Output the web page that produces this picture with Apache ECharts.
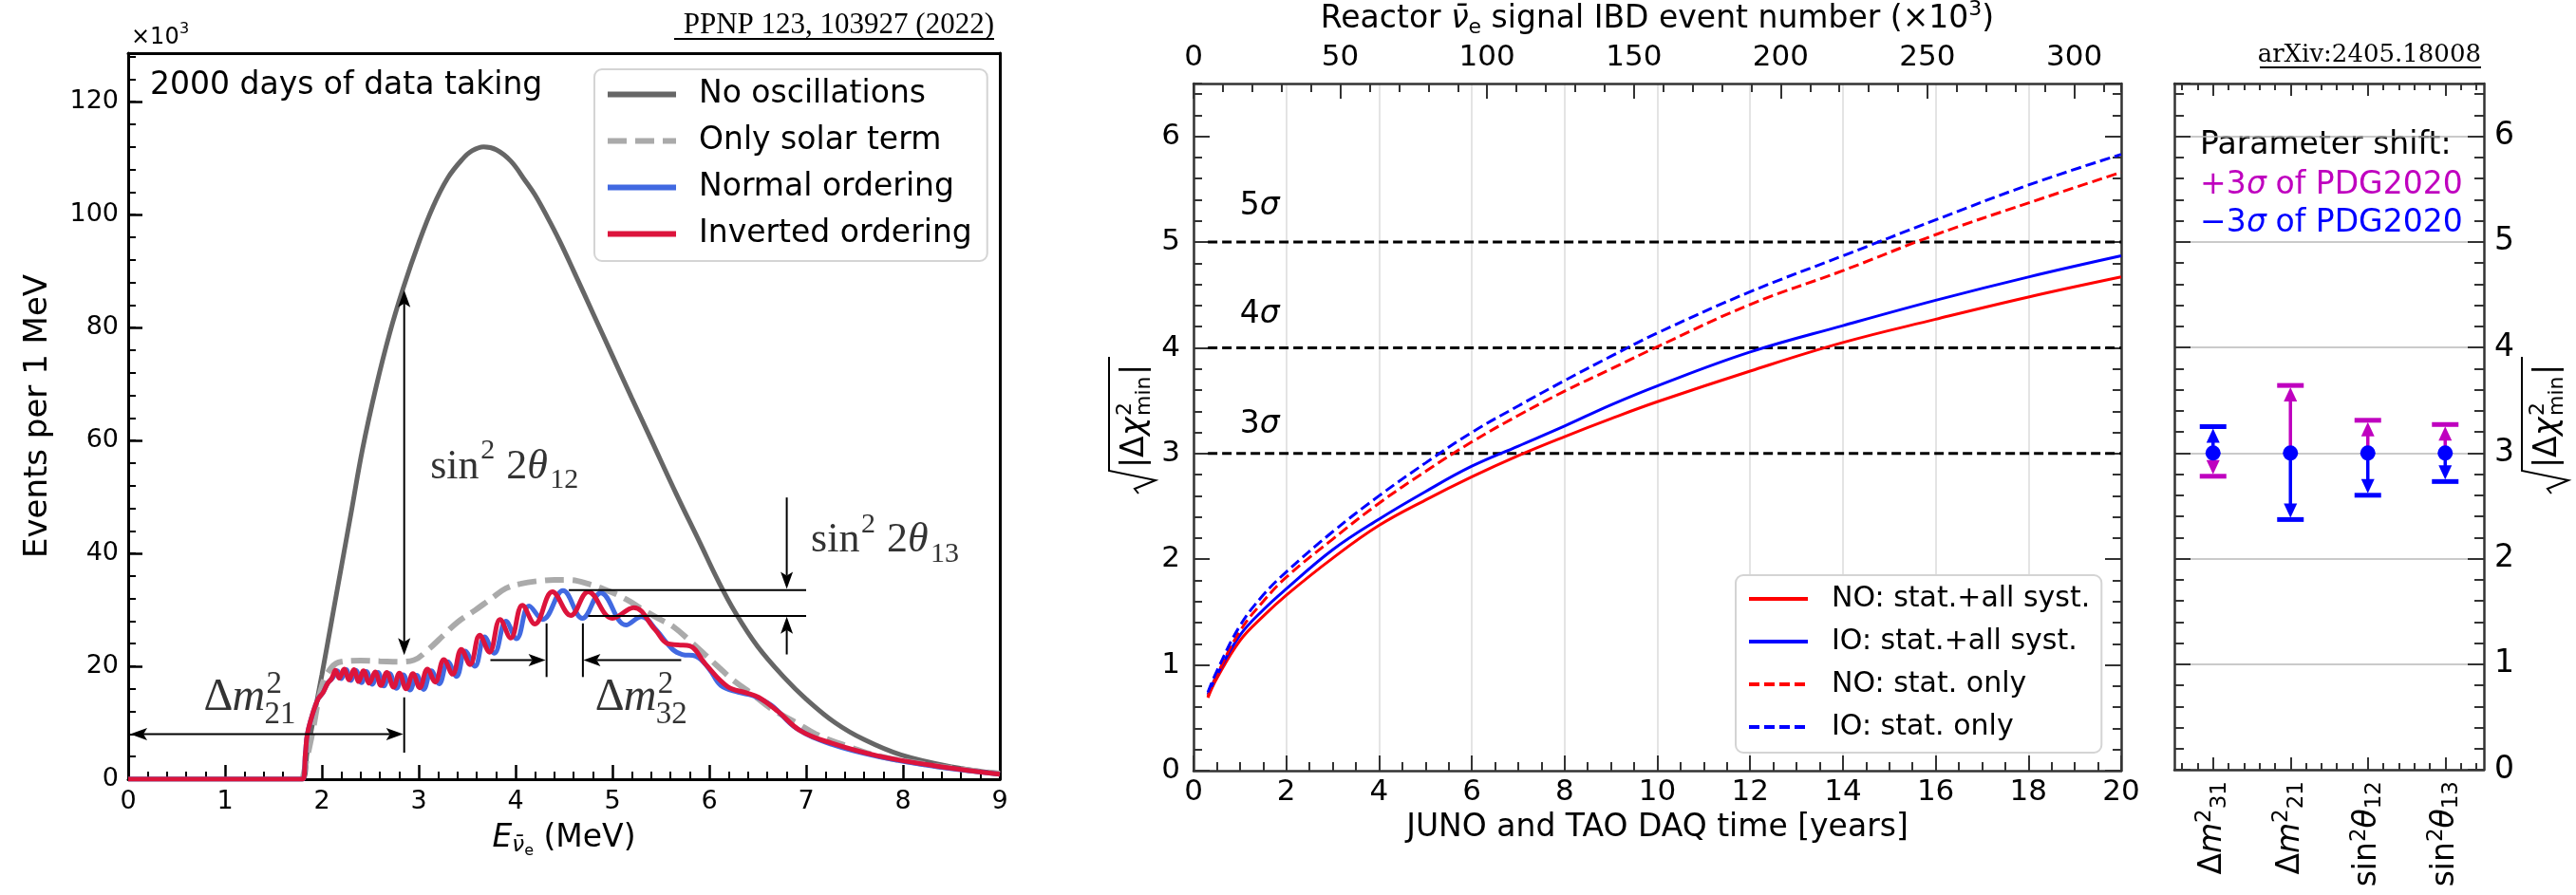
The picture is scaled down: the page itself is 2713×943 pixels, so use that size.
<!DOCTYPE html>
<html>
<head>
<meta charset="utf-8">
<title>JUNO mass ordering</title>
<script src="https://cdn.jsdelivr.net/npm/echarts@6.0.0/dist/echarts.min.js"></script>
<style>
html,body{margin:0;padding:0;background:#ffffff;}
#chart{width:2713px;height:943px;}
</style>
</head>
<body>
<div id="chart"></div>
<script>
// ================= DATA =================
// Left panel: reactor antineutrino spectrum, E (MeV) vs events per 1 MeV (x10^3)
const noOscillation = [[0,0],[1.79,0],[1.85,5],[1.9,9.5],[2.0,18.5],[2.1,28],[2.2,37.5],[2.3,47],[2.42,58.5],[2.56,69.5],[2.7,79],[2.84,87],[3.0,95],[3.15,101.5],[3.3,106.5],[3.45,109.8],[3.55,111.3],[3.67,112],[3.8,111.5],[3.95,109.5],[4.1,106],[4.2,103.5],[4.33,99.5],[4.45,95.5],[4.6,90],[4.8,82.5],[5.0,75],[5.2,67.5],[5.39,60.5],[5.66,50.5],[5.9,42],[6.09,35.2],[6.27,29.5],[6.5,23.5],[6.77,18.1],[7.0,14.2],[7.3,10],[7.6,7],[7.98,4.3],[8.5,2.2],[9.0,1.0]];
const solarOnly = [[1.8,0],[1.9,8],[2.0,16.5],[2.1,19.8],[2.2,20.8],[2.4,21],[2.6,20.9],[2.8,20.8],[2.95,21.1],[3.1,23],[3.25,25.4],[3.4,27.8],[3.58,29.9],[3.75,32],[3.9,33.8],[4.05,34.6],[4.23,35.1],[4.4,35.3],[4.55,35.3],[4.75,34.6],[4.98,33.2],[5.15,31.8],[5.3,30.2],[5.47,28.5],[5.63,27],[5.8,24.5],[5.96,22],[6.1,19.8],[6.25,17.5],[6.45,15],[6.64,12.5],[6.9,10],[7.1,8],[7.4,6],[7.75,4.1],[8.1,3],[8.4,2.2],[9,1.0]];
const normalOrdering = [[0,0],[1.80,0],[1.83,4.6],[1.85,8.0],[1.91,11.9],[1.96,14.2],[2.01,15.3],[2.06,17.0],[2.11,17.9],[2.16,19.2],[2.20,17.8],[2.25,19.4],[2.30,17.5],[2.35,19.3],[2.41,17.1],[2.46,19.1],[2.52,16.8],[2.58,18.9],[2.64,16.5],[2.70,18.7],[2.77,16.1],[2.84,18.5],[2.91,15.8],[2.98,18.4],[3.05,15.9],[3.13,19.2],[3.21,16.9],[3.30,20.8],[3.39,18.2],[3.48,22.7],[3.58,20.0],[3.68,25.2],[3.78,22.3],[3.90,28.0],[4.01,24.9],[4.14,30.7],[4.28,28.3],[4.49,33.4],[4.69,28.5],[4.88,33.0],[5.14,27.3],[5.30,28.8],[5.45,26.5],[5.62,23.0],[5.72,22.1],[5.86,21.8],[6.0,19.5],[6.12,16.6],[6.30,15.4],[6.45,14.8],[6.64,13.1],[6.90,9.0],[7.26,6.2],[7.75,4.0],[8.40,2.1],[9.0,0.9]];
const invertedOrdering = [[0,0],[1.80,0],[1.83,4.6],[1.85,8.0],[1.91,11.9],[1.96,14.2],[2.01,15.3],[2.06,17.0],[2.10,17.8],[2.14,19.3],[2.18,17.9],[2.23,19.5],[2.28,17.6],[2.33,19.4],[2.38,17.3],[2.43,19.2],[2.49,17.0],[2.55,19.0],[2.61,16.6],[2.67,18.9],[2.74,16.3],[2.80,18.8],[2.87,16.0],[2.94,18.7],[3.01,16.2],[3.09,19.5],[3.17,17.2],[3.26,21.2],[3.35,18.6],[3.44,23.0],[3.53,20.3],[3.63,25.5],[3.73,22.5],[3.84,28.3],[3.95,25.0],[4.07,30.8],[4.20,27.5],[4.38,33.2],[4.57,29.0],[4.75,33.2],[5.0,28.5],[5.22,30.4],[5.44,26.5],[5.57,24.0],[5.68,23.8],[5.80,23.6],[5.96,20.4],[6.19,16.4],[6.38,15.3],[6.51,14.5],[6.71,12.0],[6.94,8.6],[7.26,6.4],[7.75,4.1],[8.40,2.2],[9.0,0.9]];

// Middle panel: sensitivity vs DAQ time (years)
const daqYears = [0.31,0.5,1,1.5,2,3,4,5,6,7,8,9,10,12,14,16,18,20];
const noSyst = [0.69,0.87,1.23,1.46,1.66,2.01,2.32,2.56,2.78,2.98,3.16,3.33,3.49,3.78,4.05,4.27,4.48,4.67];
const ioSyst = [0.72,0.90,1.28,1.52,1.72,2.09,2.38,2.64,2.88,3.07,3.26,3.46,3.64,3.96,4.21,4.45,4.67,4.87];
const noStat = [0.70,0.90,1.32,1.60,1.83,2.19,2.53,2.83,3.11,3.36,3.59,3.80,4.01,4.41,4.73,5.07,5.37,5.66];
const ioStat = [0.74,0.94,1.37,1.66,1.88,2.26,2.60,2.91,3.20,3.45,3.69,3.92,4.14,4.53,4.87,5.21,5.54,5.83];
const sigmaLevels = [5,4,3];
const eventTickLabels = [0,50,100,150,200,250,300];

// Right panel: parameter shifts
const paramLabels = ['{t|Δ}{i|m}{sup|2}{sub|31}','{t|Δ}{i|m}{sup|2}{sub|21}','{t|sin}{sup|2}{i|θ}{sub|12}','{t|sin}{sup|2}{i|θ}{sub|13}'];
const paramIndex = [0,1,2,3];
const centralValue = [3,3,3,3];
const plus3Sigma = [2.78,3.64,3.31,3.27];
const minus3Sigma = [3.25,2.37,2.60,2.73];

// ================= ANNOTATIONS (left panel, data coordinates) =================
const annotSegments = [ // x1,y1,x2,y2,headAtStart,headAtEnd
  [2.85,22.0,2.85,86.6,1,1],
  [0.02,8.0,2.84,8.0,1,1],
  [3.74,21.1,4.31,21.1,0,1],
  [5.71,21.1,4.70,21.1,0,1],
  [6.80,49.9,6.80,33.7,0,1],
  [6.80,22.1,6.80,28.8,0,1],
  [2.85,14.5,2.85,4.7,0,0],
  [4.32,27.6,4.32,18.1,0,0],
  [4.695,27.6,4.695,18.1,0,0],
  [4.55,33.5,7.0,33.5,0,0],
  [4.75,28.9,7.0,28.9,0,0]
];
const annotLabelAnchors = [[0.78,11.6],[4.82,11.6],[3.12,52.8],[7.05,39.7]];
const sigmaLabelAnchors = [[1.0,5.24],[1.0,4.21],[1.0,3.17]];

// ================= STYLE HELPERS =================
const SANS = 'DejaVu Sans';
const SERIF = 'Liberation Serif';
const MATHC = '#333333';
const AX = '#333333';

const annotLabelPieces = [
  [['Δ',0,0,48,0],['m',30,0,48,1],['2',66,-19,33,0],['21',64,13,33,0]],
  [['Δ',0,0,48,0],['m',30,0,48,1],['2',66,-19,33,0],['32',64,13,33,0]],
  [['sin',0,0,44,0],['2',53,-22,30,0],['2',80,0,44,0],['θ',102,0,44,1],['12',126,9,30,0]],
  [['sin',0,0,44,0],['2',53,-22,30,0],['2',80,0,44,0],['θ',102,0,44,1],['13',126,9,30,0]]
];

function placePieces(list, x0, yBase, color, family) {
  return list.map(p => ({
    type: 'text', x: x0 + p[1], y: yBase + p[2] - 0.34 * p[3],
    style: {text: p[0], font: (p[4] ? 'italic ' : '') + p[3] + 'px ' + (p[5] || family),
      fill: color, align: 'left', verticalAlign: 'middle'}
  }));
}

function headShape(tip, ux, uy, len, half, notch, color) {
  const px = -uy, py = ux;
  const bx = tip[0] - ux * len, by = tip[1] - uy * len;
  const nx = tip[0] - ux * (len - notch), ny = tip[1] - uy * (len - notch);
  return {type: 'polygon', shape: {points: [[tip[0], tip[1]], [bx + px * half, by + py * half], [nx, ny], [bx - px * half, by - py * half]]},
    style: {fill: color, stroke: null}};
}

function baseAxis(extra) {
  return Object.assign({
    type: 'value',
    axisLine: {show: false, onZero: false},
    axisTick: {show: false},
    axisLabel: {show: false},
    splitLine: {show: false},
    minorTick: {show: false},
    minorSplitLine: {show: false}
  }, extra);
}
const spine = (c, w) => ({show: true, onZero: false, lineStyle: {color: c, width: w}});
const ticks = (len, c, w, extra) => Object.assign({show: true, inside: true, length: len, lineStyle: {color: c, width: w}}, extra || {});
const labels = (size, margin, extra) => Object.assign({show: true, color: '#000', fontSize: size, fontFamily: SANS, margin: margin}, extra || {});

const rightMinor = [];
for (let k = -2; k <= 17; k++) rightMinor.push(Math.round(k * 0.2 * 10) / 10);

const xAxes = [
  // 0: left panel bottom
  baseAxis({gridIndex: 0, min: 0, max: 9, interval: 1, position: 'bottom',
    axisLine: spine('#000', 3), axisTick: ticks(15, '#000', 2.5),
    minorTick: {show: true, splitNumber: 5, length: 8, lineStyle: {color: '#000', width: 2}},
    axisLabel: labels(27, 10),
    name: '{e|E}{n|ν̄}{s|e}{t| (MeV)}', nameLocation: 'middle', nameGap: 40,
    nameTextStyle: {color: '#000', fontFamily: SANS, fontSize: 33, rich: {
      e: {fontSize: 33, fontStyle: 'italic', fontFamily: SANS, color: '#000'},
      n: {fontSize: 23, fontStyle: 'italic', fontFamily: SANS, color: '#000', padding: [16, 0, 0, 0]},
      s: {fontSize: 16, fontFamily: SANS, color: '#000', padding: [28, 0, 0, 0]},
      t: {fontSize: 33, fontFamily: SANS, color: '#000'}}}}),
  // 1: left panel top spine
  baseAxis({gridIndex: 0, min: 0, max: 9, position: 'top', axisLine: spine('#000', 3)}),
  // 2: middle bottom
  baseAxis({gridIndex: 1, min: 0, max: 20, interval: 2, position: 'bottom',
    axisLine: spine(AX, 2.5), axisTick: ticks(16, AX, 2),
    minorTick: {show: true, splitNumber: 4, length: 9, lineStyle: {color: AX, width: 2}},
    axisLabel: labels(31, 7),
    splitLine: {show: true, lineStyle: {color: '#e4e4e4', width: 2}},
    name: 'JUNO and TAO DAQ time [years]', nameLocation: 'middle', nameGap: 44,
    nameTextStyle: {color: '#000', fontFamily: SANS, fontSize: 33}}),
  // 3: middle top (event number)
  baseAxis({gridIndex: 1, min: 0, max: 316, interval: 50, position: 'top',
    axisLine: spine(AX, 2.5), axisTick: ticks(16, AX, 2),
    axisLabel: labels(31, 12, {showMaxLabel: false, formatter: v => (eventTickLabels.indexOf(v) >= 0 ? String(v) : '')}),
    name: '{t|Reactor }{n|ν̄}{s|e}{t| signal IBD event number (×10}{p|3}{t|)}', nameLocation: 'middle', nameGap: 42,
    nameTextStyle: {color: '#000', fontFamily: SANS, fontSize: 33, rich: {
      t: {fontSize: 33, fontFamily: SANS, color: '#000'},
      n: {fontSize: 33, fontStyle: 'italic', fontFamily: SANS, color: '#000'},
      s: {fontSize: 22, fontFamily: SANS, color: '#000', padding: [18, 0, 0, 0]},
      p: {fontSize: 22, fontFamily: SANS, color: '#000', padding: [0, 0, 20, 0]}}}}),
  // 4: middle top minor
  baseAxis({gridIndex: 1, min: 0, max: 316, interval: 10, position: 'top', axisTick: ticks(9, AX, 2)}),
  // 5: right bottom
  baseAxis({gridIndex: 2, min: -0.5, max: 3.5, position: 'bottom',
    axisLine: spine(AX, 2.5), axisTick: ticks(13, AX, 2, {customValues: paramIndex}),
    axisLabel: labels(33, 12, {customValues: paramIndex, rotate: 90,
      formatter: v => { const i = Math.round(v); return paramLabels[i] || ''; },
      rich: {
        t: {fontSize: 33, fontFamily: SANS, color: '#000'},
        i: {fontSize: 33, fontFamily: SANS, fontStyle: 'italic', color: '#000'},
        sup: {fontSize: 23, fontFamily: SANS, color: '#000', padding: [0, 0, 18, 0]},
        sub: {fontSize: 23, fontFamily: SANS, color: '#000', padding: [14, 0, 0, 0]}}})}),
  // 6: right bottom minor
  baseAxis({gridIndex: 2, min: -0.5, max: 3.5, position: 'bottom', axisTick: ticks(7, AX, 2, {customValues: rightMinor})}),
  // 7: right top
  baseAxis({gridIndex: 2, min: -0.5, max: 3.5, position: 'top', axisLine: spine(AX, 2.5), axisTick: ticks(13, AX, 2, {customValues: paramIndex})}),
  // 8: right top minor
  baseAxis({gridIndex: 2, min: -0.5, max: 3.5, position: 'top', axisTick: ticks(7, AX, 2, {customValues: rightMinor})})
];

const yAxes = [
  // 0: left panel left
  baseAxis({gridIndex: 0, min: 0, max: 128.6, interval: 20, position: 'left',
    axisLine: spine('#000', 3), axisTick: ticks(15, '#000', 2.5),
    axisLabel: labels(27, 10, {showMaxLabel: false}),
    name: 'Events per 1 MeV', nameLocation: 'middle', nameGap: 78, nameRotate: 90,
    nameTextStyle: {color: '#000', fontFamily: SANS, fontSize: 34}}),
  // 1: left panel minor
  baseAxis({gridIndex: 0, min: 0, max: 128.6, interval: 4, position: 'left', axisTick: ticks(8, '#000', 2)}),
  // 2: left panel right spine
  baseAxis({gridIndex: 0, min: 0, max: 128.6, position: 'right', axisLine: spine('#000', 3)}),
  // 3: middle left
  baseAxis({gridIndex: 1, min: 0, max: 6.5, interval: 1, position: 'left',
    axisLine: spine(AX, 2.5), axisTick: ticks(17, AX, 2), axisLabel: labels(31, 14, {showMaxLabel: false})}),
  // 4: middle left minor
  baseAxis({gridIndex: 1, min: 0, max: 6.5, interval: 0.2, position: 'left', axisTick: ticks(9, AX, 2)}),
  // 5: middle right
  baseAxis({gridIndex: 1, min: 0, max: 6.5, interval: 1, position: 'right', axisLine: spine(AX, 2.5), axisTick: ticks(17, AX, 2)}),
  // 6: middle right minor
  baseAxis({gridIndex: 1, min: 0, max: 6.5, interval: 0.2, position: 'right', axisTick: ticks(9, AX, 2)}),
  // 7: right panel left
  baseAxis({gridIndex: 2, min: 0, max: 6.5, interval: 1, position: 'left', axisLine: spine(AX, 2.5), axisTick: ticks(17, AX, 2),
    splitLine: {show: true, lineStyle: {color: '#b8b8b8', width: 1.5}}}),
  // 8: right panel left minor
  baseAxis({gridIndex: 2, min: 0, max: 6.5, interval: 0.2, position: 'left', axisTick: ticks(10, AX, 2)}),
  // 9: right panel right (labels)
  baseAxis({gridIndex: 2, min: 0, max: 6.5, interval: 1, position: 'right', axisLine: spine(AX, 2.5), axisTick: ticks(17, AX, 2),
    axisLabel: labels(33, 11, {showMaxLabel: false})}),
  // 10: right panel right minor
  baseAxis({gridIndex: 2, min: 0, max: 6.5, interval: 0.2, position: 'right', axisTick: ticks(10, AX, 2)})
];

function lineSeries(name, data, xi, yi, color, width, type, z) {
  return {name: name, type: 'line', xAxisIndex: xi, yAxisIndex: yi, data: data, symbol: 'none', showSymbol: false,
    smooth: 0.4, z: z, lineStyle: {color: color, width: width, type: type || 'solid'}, itemStyle: {color: color},
    emphasis: {disabled: true}, animation: false};
}
const zip = (xs, ys) => xs.map((x, i) => [x, ys[i]]);

const series = [
  lineSeries('No oscillations', noOscillation, 0, 0, '#666666', 5, 'solid', 2),
  lineSeries('Only solar term', solarOnly, 0, 0, '#aaaaaa', 6, [20, 9], 3),
  lineSeries('Normal ordering', normalOrdering, 0, 0, '#4169e1', 5, 'solid', 4),
  lineSeries('Inverted ordering', invertedOrdering, 0, 0, '#dc143c', 5, 'solid', 5),
  { // annotation arrows and lines
    type: 'custom', xAxisIndex: 0, yAxisIndex: 0, clip: false, z: 10, silent: true,
    data: annotSegments, encode: {x: [0, 2], y: [1, 3]},
    renderItem: (params, api) => {
      const d = annotSegments[params.dataIndex];
      const a = api.coord([d[0], d[1]]), b = api.coord([d[2], d[3]]);
      const L = Math.hypot(b[0] - a[0], b[1] - a[1]);
      const ux = (b[0] - a[0]) / L, uy = (b[1] - a[1]) / L;
      const HL = 18, HW = 6.5, NO = 4;
      const s = d[4] ? [a[0] + ux * (HL - NO), a[1] + uy * (HL - NO)] : a;
      const e = d[5] ? [b[0] - ux * (HL - NO), b[1] - uy * (HL - NO)] : b;
      const ch = [{type: 'line', shape: {x1: s[0], y1: s[1], x2: e[0], y2: e[1]}, style: {stroke: '#000', lineWidth: 2}}];
      if (d[4]) ch.push(headShape(a, -ux, -uy, HL, HW, NO, '#000'));
      if (d[5]) ch.push(headShape(b, ux, uy, HL, HW, NO, '#000'));
      return {type: 'group', children: ch};
    }
  },
  { // annotation math labels
    type: 'custom', xAxisIndex: 0, yAxisIndex: 0, clip: false, z: 11, silent: true,
    data: annotLabelAnchors,
    renderItem: (params, api) => {
      const p = api.coord(annotLabelAnchors[params.dataIndex]);
      return {type: 'group', children: placePieces(annotLabelPieces[params.dataIndex], p[0], p[1], MATHC, SERIF)};
    }
  },
  lineSeries('NO: stat.+all syst.', zip(daqYears, noSyst), 2, 3, '#ff0000', 3, 'solid', 4),
  lineSeries('IO: stat.+all syst.', zip(daqYears, ioSyst), 2, 3, '#0000ff', 3, 'solid', 5),
  lineSeries('NO: stat. only', zip(daqYears, noStat), 2, 3, '#ff0000', 3, [11, 5], 6),
  lineSeries('IO: stat. only', zip(daqYears, ioStat), 2, 3, '#0000ff', 3, [11, 5], 7)
];
sigmaLevels.forEach(l => {
  series.push({type: 'line', name: 'lvl' + l, xAxisIndex: 2, yAxisIndex: 3, data: [[daqYears[0], l], [daqYears[daqYears.length - 1], l]],
    symbol: 'none', showSymbol: false, z: 3, lineStyle: {color: '#000', width: 3, type: [10, 5]}, emphasis: {disabled: true}, silent: true});
});
series.push({
  type: 'custom', xAxisIndex: 2, yAxisIndex: 3, clip: false, z: 11, silent: true,
  data: sigmaLabelAnchors,
  renderItem: (params, api) => {
    const p = api.coord(sigmaLabelAnchors[params.dataIndex]);
    const lvl = String(sigmaLevels[params.dataIndex]);
    return {type: 'group', children: placePieces([[lvl, 0, 0, 33, 0, SANS], ['σ', 21, 0, 33, 1, SANS]], p[0], p[1], '#000', SANS)};
  }
});
const errRows = paramIndex.map((k, i) => [k, centralValue[i], plus3Sigma[i], minus3Sigma[i]]);
series.push({
  type: 'custom', xAxisIndex: 5, yAxisIndex: 7, clip: false, z: 12, silent: true,
  data: errRows, encode: {x: 0, y: [1, 2, 3]},
  renderItem: (params, api) => {
    const x = api.value(0), c = api.value(1), up = api.value(2), dn = api.value(3);
    const pc = api.coord([x, c]);
    const ch = [];
    [[up, '#bf00bf'], [dn, '#0000ff']].forEach(([v, col]) => {
      const pe = api.coord([x, v]);
      const dir = pe[1] < pc[1] ? -1 : 1;
      const HL = 15, HW = 7;
      ch.push({type: 'line', shape: {x1: pc[0], y1: pc[1], x2: pe[0], y2: pe[1] - dir * HL * 0.8}, style: {stroke: col, lineWidth: 3.5}});
      ch.push(headShape([pe[0], pe[1] - dir * 2], 0, dir, HL, HW, 0, col));
      ch.push({type: 'line', shape: {x1: pe[0] - 14, y1: pe[1], x2: pe[0] + 14, y2: pe[1]}, style: {stroke: col, lineWidth: 5}});
    });
    ch.push({type: 'circle', shape: {cx: pc[0], cy: pc[1], r: 8}, style: {fill: '#0000ff'}});
    return {type: 'group', children: ch};
  }
});

function sqrtLabel(cx, cy) {
  const f = 33, fs = 22;
  const t = (txt, x, y, size, it) => ({type: 'text', x: x, y: y, style: {text: txt, font: (it ? 'italic ' : '') + size + 'px ' + SANS, fill: '#000', align: 'left', verticalAlign: 'middle'}});
  return {type: 'group', x: cx, y: cy, rotation: Math.PI / 2, silent: true, children: [
    {type: 'polyline', shape: {points: [[-72, 4], [-67, 0], [-58, 22], [-48, -27], [72, -27]]}, style: {stroke: '#000', lineWidth: 2, fill: null}},
    t('|Δ', -45, 0, f, 0),
    t('χ', -11, 0, f, 1),
    t('2', 10, -10, fs, 0),
    t('min', 10, 10, fs, 0),
    t('|', 53, 0, f, 0)
  ]};
}
function gtext(txt, x, y, font, color, align) {
  return {type: 'text', x: x, y: y, silent: true, style: {text: txt, font: font, fill: color || '#000', align: align || 'left', verticalAlign: 'middle'}};
}

const graphic = [
  gtext('×10', 138, 40, '24px ' + SANS),
  gtext('3', 189, 31, '16px ' + SANS),
  gtext('2000 days of data taking', 158, 90.5, '33px ' + SANS),
  gtext('PPNP 123, 103927 (2022)', 1047, 26.5, '31px ' + SERIF, '#000', 'right'),
  {type: 'line', silent: true, shape: {x1: 710, y1: 41, x2: 1047, y2: 41}, style: {stroke: '#000', lineWidth: 2}},
  gtext('arXiv:2405.18008', 2613, 58, '26px DejaVu Serif', '#000', 'right'),
  {type: 'line', silent: true, shape: {x1: 2380, y1: 71, x2: 2613, y2: 71}, style: {stroke: '#000', lineWidth: 2}},
  gtext('Parameter shift:', 2317, 153, '33px ' + SANS),
  gtext('+3', 2317, 195, '33px ' + SANS, '#bf00bf'),
  gtext('σ', 2366, 195, 'italic 33px ' + SANS, '#bf00bf'),
  gtext(' of PDG2020', 2386, 195, '33px ' + SANS, '#bf00bf'),
  gtext('−3', 2317, 235, '33px ' + SANS, '#0000ff'),
  gtext('σ', 2366, 235, 'italic 33px ' + SANS, '#0000ff'),
  gtext(' of PDG2020', 2386, 235, '33px ' + SANS, '#0000ff'),
  sqrtLabel(1195, 448),
  sqrtLabel(2683, 448)
];

const legendCommon = {orient: 'vertical', selectedMode: false, backgroundColor: '#ffffff', borderColor: '#d4d4d4', borderWidth: 2, borderRadius: 8,
  itemStyle: {opacity: 0, borderWidth: 0}};
const option = {
  animation: false,
  backgroundColor: '#ffffff',
  textStyle: {fontFamily: SANS},
  grid: [
    {left: 135, top: 56, width: 918, height: 765, containLabel: false, outerBoundsMode: 'none'},
    {left: 1257, top: 88, width: 977, height: 724, containLabel: false, outerBoundsMode: 'none'},
    {left: 2290, top: 88, width: 326, height: 723, containLabel: false, outerBoundsMode: 'none'}
  ],
  legend: [
    Object.assign({}, legendCommon, {data: ['No oscillations', 'Only solar term', 'Normal ordering', 'Inverted ordering'],
      left: 626, top: 73, itemWidth: 72, itemHeight: 14, itemGap: 16, padding: [10, 16, 12, 11],
      lineStyle: {width: 6},
      textStyle: {fontSize: 33, fontFamily: SANS, color: '#000', padding: [0, 0, 0, 19]}}),
    Object.assign({}, legendCommon, {data: ['NO: stat.+all syst.', 'IO: stat.+all syst.', 'NO: stat. only', 'IO: stat. only'],
      left: 1828, top: 606, itemWidth: 62, itemHeight: 14, itemGap: 15, padding: [10, 12, 12, 12],
      lineStyle: {width: 4},
      textStyle: {fontSize: 30, fontFamily: SANS, color: '#000', padding: [0, 0, 0, 20]}})
  ],
  xAxis: xAxes,
  yAxis: yAxes,
  series: series,
  graphic: graphic
};

const chart = echarts.init(document.getElementById('chart'), null, {renderer: 'canvas', width: 2713, height: 943});
chart.setOption(option);
</script>
</body>
</html>
